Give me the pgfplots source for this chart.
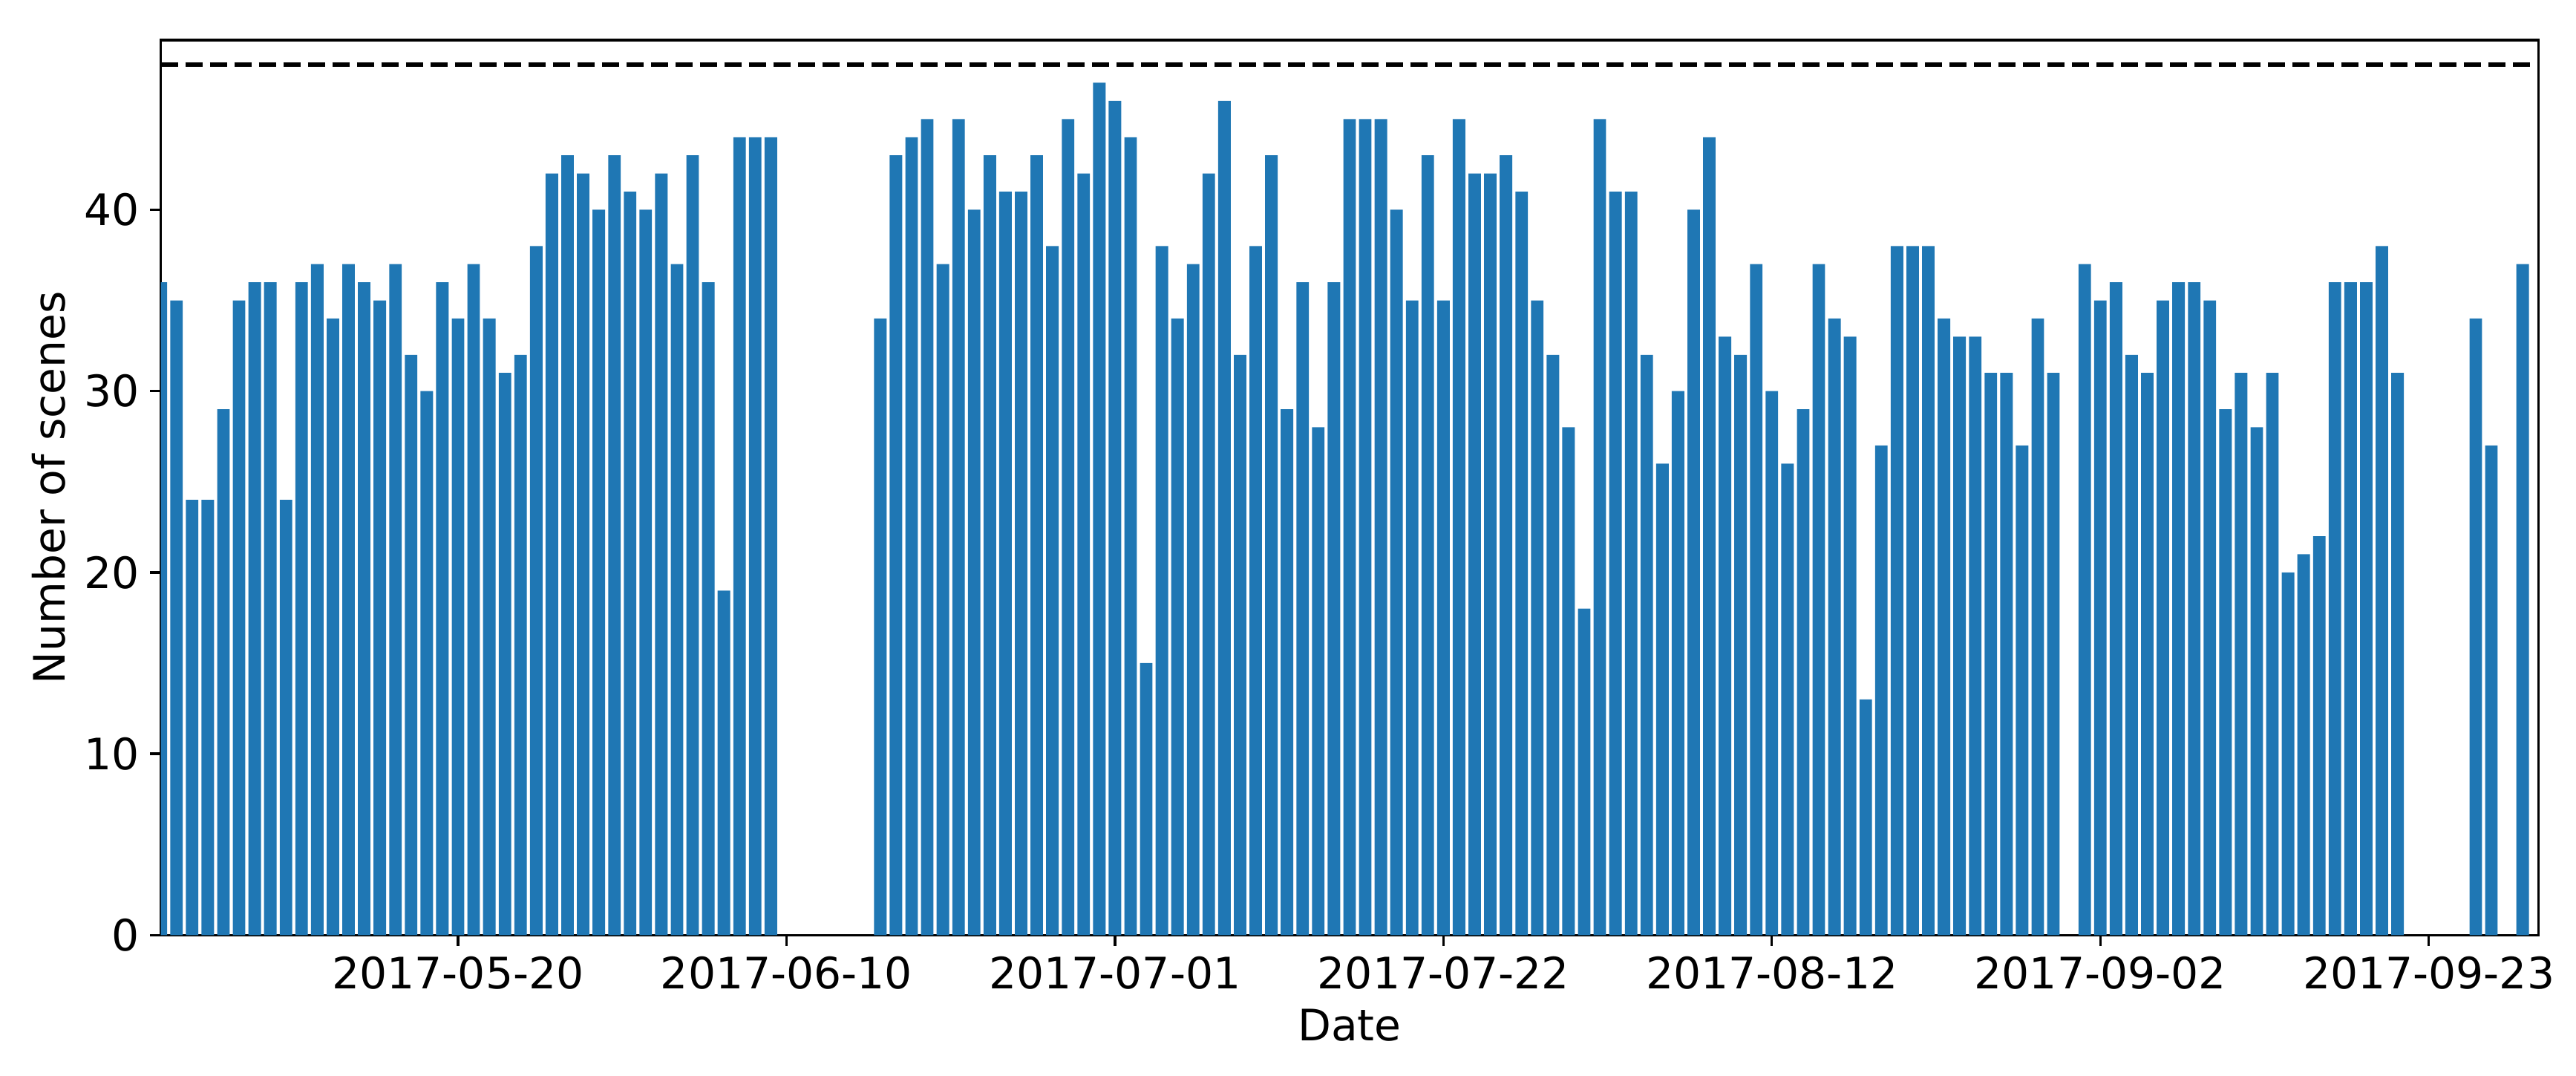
\documentclass[border=0pt]{standalone}
\usepackage{fontspec}
\setmainfont{DejaVu Sans}
\usepackage{pgfplots}
\usepackage{pgfplotstable}
\pgfplotsset{compat=1.18}
\definecolor{mplblue}{HTML}{1F77B4}
% day index: 0 = 2017-05-01
\pgfplotstableread{
day scenes
0 36
1 35
2 24
3 24
4 29
5 35
6 36
7 36
8 24
9 36
10 37
11 34
12 37
13 36
14 35
15 37
16 32
17 30
18 36
19 34
20 37
21 34
22 31
23 32
24 38
25 42
26 43
27 42
28 40
29 43
30 41
31 40
32 42
33 37
34 43
35 36
36 19
37 44
38 44
39 44
46 34
47 43
48 44
49 45
50 37
51 45
52 40
53 43
54 41
55 41
56 43
57 38
58 45
59 42
60 47
61 46
62 44
63 15
64 38
65 34
66 37
67 42
68 46
69 32
70 38
71 43
72 29
73 36
74 28
75 36
76 45
77 45
78 45
79 40
80 35
81 43
82 35
83 45
84 42
85 42
86 43
87 41
88 35
89 32
90 28
91 18
92 45
93 41
94 41
95 32
96 26
97 30
98 40
99 44
100 33
101 32
102 37
103 30
104 26
105 29
106 37
107 34
108 33
109 13
110 27
111 38
112 38
113 38
114 34
115 33
116 33
117 31
118 31
119 27
120 34
121 31
123 37
124 35
125 36
126 32
127 31
128 35
129 36
130 36
131 35
132 29
133 31
134 28
135 31
136 20
137 21
138 22
139 36
140 36
141 36
142 38
143 31
148 34
149 27
151 37
}\scenes
\begin{document}
\begin{tikzpicture}
\path (0,0) rectangle (832.8bp,347.76bp);
\begin{axis}[
  at={(52.0bp,45.53bp)}, anchor=south west,
  scale only axis, width=768.6bp, height=289.3bp,
  xmin=0, xmax=152, ymin=0, ymax=49.36,
  axis line style={line width=0.8pt, black},
  tick style={line width=0.8pt, black},
  major tick length=3.5pt,
  tick align=outside,
  xtick pos=left, ytick pos=left,
  xtick={19,40,61,82,103,124,145},
  xticklabels={2017-05-20,2017-06-10,2017-07-01,2017-07-22,2017-08-12,2017-09-02,2017-09-23},
  ytick={0,10,20,30,40},
  ticklabel style={font=\fontsize{14bp}{16.8bp}\selectfont},
  xticklabel style={anchor=base, yshift=-13.9bp},
  yticklabel style={/pgf/number format/assume math mode=true, anchor=east, inner sep=0pt, xshift=-3.3bp},
  every axis x label/.style={at={([yshift=-34.2bp]rel axis cs:0.5,0)}, anchor=base, font=\fontsize{14bp}{16.8bp}\selectfont},
  every axis y label/.style={at={([xshift=-30.9bp]rel axis cs:0,0.5)}, rotate=90, anchor=base, font=\fontsize{14bp}{16.8bp}\selectfont},
  xlabel={Date},
  ylabel={Number of scenes},
]
\addplot[ybar, bar width=0.8, fill=mplblue, draw=none] table[x=day, y=scenes] {\scenes};
\addplot[black, line width=1.5pt, dash pattern=on 5.55pt off 2.4pt] coordinates {(0,48) (152,48)};
\end{axis}
\end{tikzpicture}
\end{document}
